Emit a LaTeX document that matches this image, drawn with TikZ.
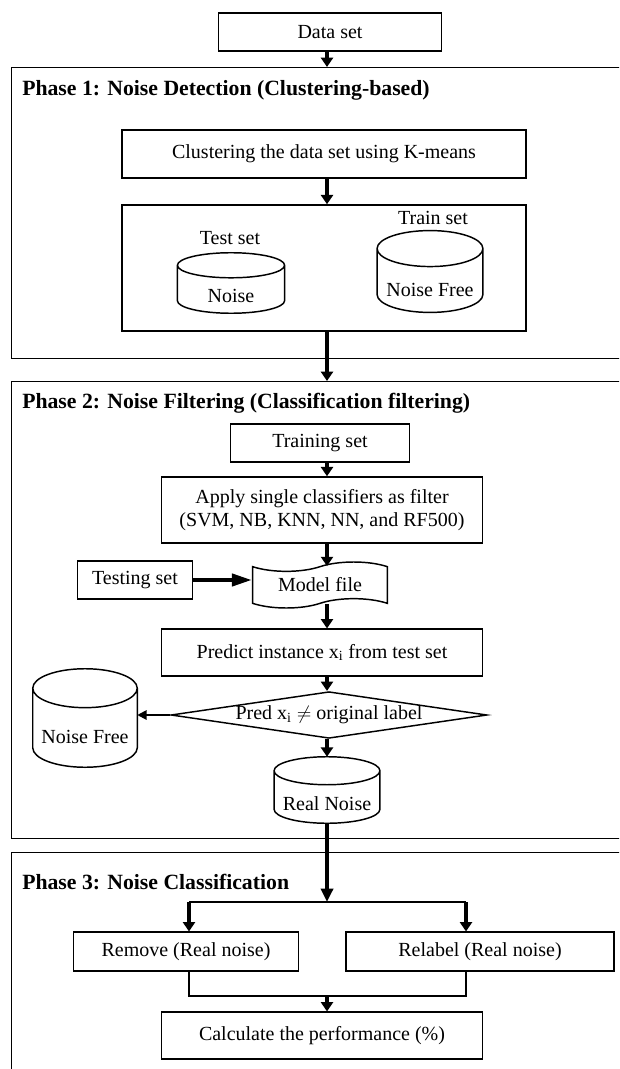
\documentclass[tikz,border=0pt]{standalone}
\usepackage{fontspec}
\setmainfont{Liberation Serif}
\usetikzlibrary{shapes,arrows.meta,positioning,calc}

\tikzset{
  box/.style={draw, line width=1.1pt, inner sep=2pt, align=center, font=\fontsize{15}{17.5}\selectfont},
  phase/.style={draw, line width=1.1pt, anchor=north west, inner sep=0pt, minimum width=470pt},
  title/.style={anchor=west, inner sep=0pt, font=\fontsize{16.3}{19}\selectfont\bfseries},
  lbl/.style={inner sep=0pt, font=\fontsize{15}{17.5}\selectfont},
  dbbox/.style={inner sep=0pt},
  flow/.style={line width=3.2pt, -{Triangle[length=7pt,width=9pt]}},
  bigflow/.style={line width=3.2pt, -{Triangle[length=10pt,width=9pt]}},
  sideflow/.style={line width=3pt, -{Triangle[length=15pt,width=9pt]}},
  thinflow/.style={line width=1.5pt, -{Triangle[length=7pt,width=7pt]}},
  thin/.style={line width=1.1pt},
}

% database drum: name, position, width, height, cap radius, text
\newcommand{\dbnode}[6]{%
  \node[dbbox, minimum width=#3, minimum height=#4] (#1) at (#2) {};
  \draw[thin] let \p1=(#1.north west), \p2=(#1.south east),
      \n1={(\x2-\x1)/2}, \n2={#5} in
    (\x1,\y1-\n2) -- (\x1,\y2+\n2)
    arc[start angle=180, end angle=360, x radius=\n1*1pt, y radius=\n2*1pt]
    -- (\x2,\y1-\n2)
    arc[start angle=0, end angle=180, x radius=\n1*1pt, y radius=\n2*1pt]
    arc[start angle=180, end angle=360, x radius=\n1*1pt, y radius=\n2*1pt];
  \node[lbl] (#1-text) at ([yshift=-#5]#1.center) {#6};
}

\begin{document}
\begin{tikzpicture}[x=0.75pt, y=-0.75pt]
    \useasboundingbox (0,0) rectangle (619,1069);
    \clip (0,0) rectangle (619,1069);
    \coordinate (spine) at (327,0);

    % Input
    \node[box, minimum width=167pt, minimum height=28.5pt] (data) at (330,32) {Data set};

    % Phase 1
    \node[phase, minimum height=218pt] (p1) at (10.5,67) {};
    \node[title] (t1) at (22,90) {Phase 1: Noise Detection (Clustering-based)};
    \node[box, minimum width=303pt, minimum height=36pt] (clust) at (324,154) {Clustering the data set using K-means};
    \node[box, minimum width=303pt, minimum height=94.5pt] (split) at (324,268) {};
    \node[lbl] (testlbl) at (230,238) {Test set};
    \dbnode{noise}{231,283}{80pt}{45pt}{9.4pt}{Noise}
    \node[lbl] (trainlbl) at (433,218) {Train set};
    \dbnode{clean}{430,271.5}{79pt}{61pt}{13.5pt}{Noise Free}

    % Phase 2
    \node[phase, minimum height=342.75pt] (p2) at (10.5,381) {};
    \node[title] (t2) at (22,403) {Phase 2: Noise Filtering (Classification filtering)};
    \node[box, minimum width=134pt, minimum height=28.5pt] (train) at (320,443) {Training set};
    \node[box, minimum width=241pt, minimum height=49.5pt] (apply) at (322,510) {Apply single classifiers as filter\\(SVM, NB, KNN, NN, and RF500)};
    \node[box, tape, tape bend height=7pt, minimum width=101pt, minimum height=34.5pt] (model) at (320,585) {Model file};
    \node[box, minimum width=86pt, minimum height=28.5pt] (test) at (135,580) {Testing set};
    \node[box, minimum width=241pt, minimum height=35pt] (pred) at (322,652.5) {Predict instance x\textsubscript{i} from test set};
    \node[box, diamond, aspect=6.7, inner sep=0pt, minimum width=237pt, minimum height=35pt] (check) at (329,715) {Pred x\textsubscript{i} $\neq$ original label};
    \dbnode{kept}{85,718}{78pt}{73.5pt}{14.6pt}{Noise Free}
    \dbnode{real}{327,790}{79pt}{49.5pt}{10.5pt}{Real Noise}

    % Phase 3
    \node[phase, minimum height=175pt] (p3) at (10.5,852) {};
    \node[title] (t3) at (22,882) {Phase 3: Noise Classification};
    \node[box, minimum width=169pt, minimum height=29pt] (remove) at (186,951.5) {Remove (Real noise)};
    \node[box, minimum width=201pt, minimum height=29pt] (relabel) at (480,951.5) {Relabel (Real noise)};
    \node[box, minimum width=241pt, minimum height=35pt] (perf) at (322,1035.5) {Calculate the performance (\%)};

    % Connectors
    \coordinate (fork) at (327,902);
    \coordinate (forkL) at (189,902);
    \coordinate (forkR) at (466,902);
    \coordinate (joinL) at (189,996);
    \coordinate (joinR) at (466,996);

    \draw[flow] (data.south -| spine) -- (p1.north -| spine);
    \draw[flow] (clust.south -| spine) -- (split.north -| spine);
    \draw[flow] (split.south -| spine) -- (p2.north -| spine);
    \draw[flow] (train.south -| spine) -- (apply.north -| spine);
    \draw[flow] (apply.south -| spine) -- (model.north -| spine);
    \draw[sideflow] (test.east) -- (test.east -| model.west);
    \draw[flow] (model.south -| spine) -- (pred.north -| spine);
    \draw[flow] (pred.south -| spine) -- (check.north -| spine);
    \draw[thinflow] (check.west) -- (check.west -| kept.east);
    \draw[flow] (check.south -| spine) -- (real.north -| spine);
    \draw[bigflow] (real.south -| spine) -- (fork);
    \draw[thin] (forkL) -- (forkR);
    \draw[flow] (forkL) -- (forkL |- remove.north);
    \draw[flow] (forkR) -- (forkR |- relabel.north);
    \draw[thin] (remove.south -| joinL) -- (joinL) -- (joinR) -- (relabel.south -| joinR);
    \draw[flow] (joinL -| spine) -- (perf.north -| spine);
\end{tikzpicture}
\end{document}
